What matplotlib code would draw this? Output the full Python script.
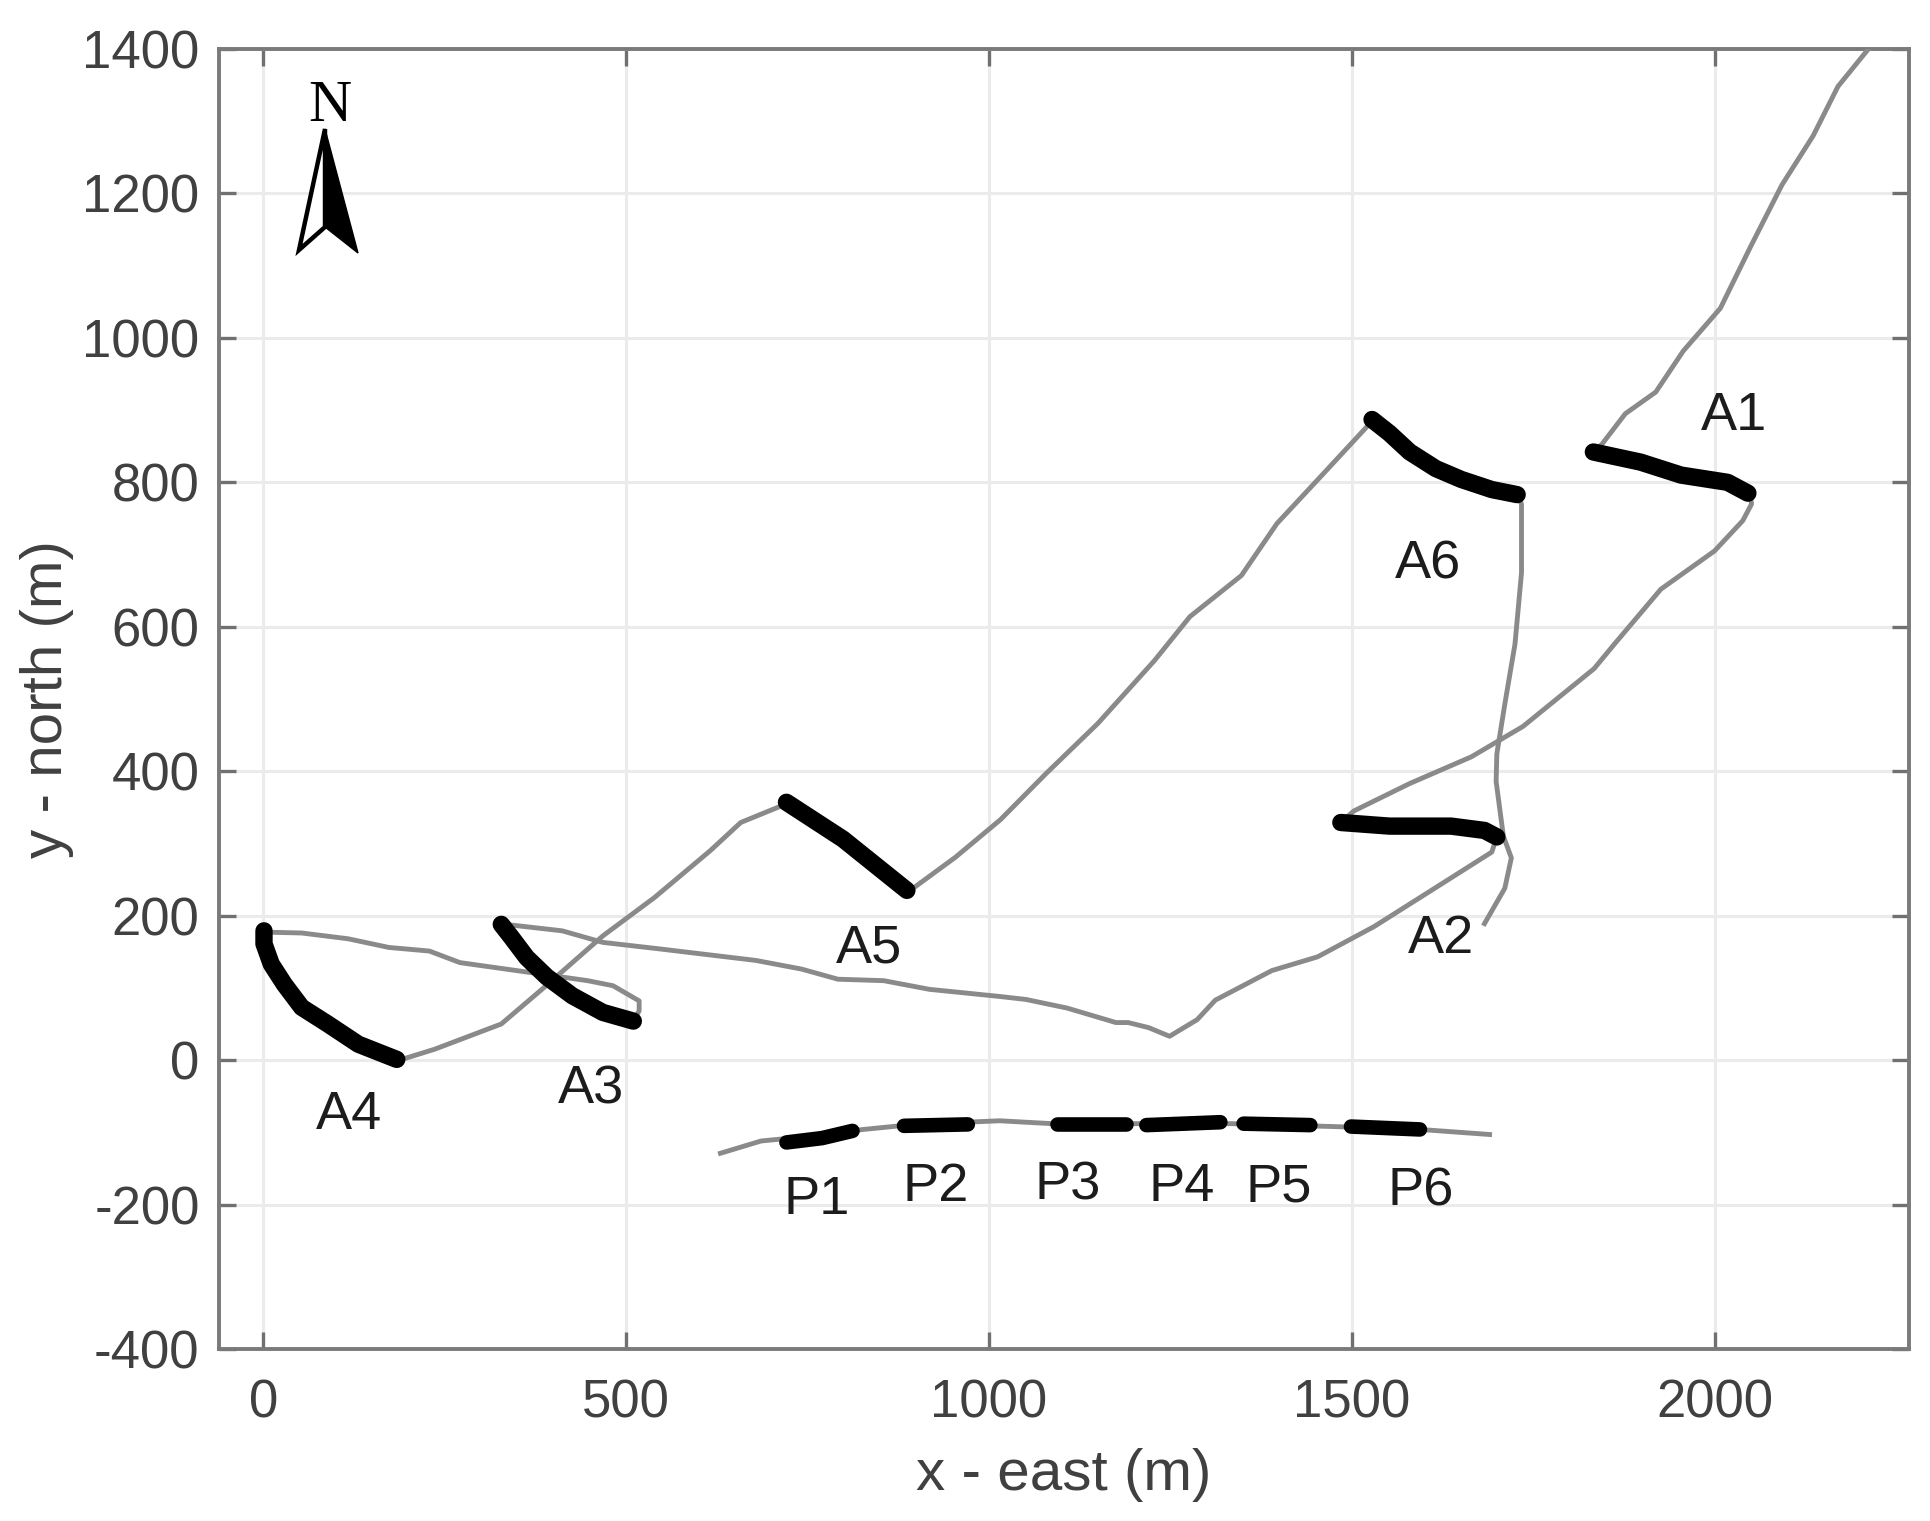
import matplotlib
matplotlib.use("Agg")
import matplotlib.pyplot as plt
from matplotlib.patches import Polygon

plt.rcParams['font.family'] = ['Liberation Sans', 'DejaVu Sans']
plt.rcParams['axes.unicode_minus'] = False

# grey ground track
track_x = [2212, 2170, 2136, 2093, 2050, 2008, 1957, 1919, 1877, 1845, 1833]
track_y = [1400, 1348, 1280, 1212, 1127, 1041, 982, 925, 895, 853, 842]
leg1_x = [2049, 2051, 2039, 2000, 1926, 1862, 1834, 1736, 1665, 1580, 1503, 1485]
leg1_y = [785, 770, 747, 705, 652, 576, 542, 462, 420, 383, 345, 329]
leg2_x = [1700, 1693, 1616, 1531, 1453, 1390, 1312, 1287, 1249, 1220, 1192, 1175, 1108, 1051, 1016,
          918, 855, 792, 742, 679, 546, 468, 412, 342, 328]
leg2_y = [309, 288, 239, 185, 143, 124, 83, 56, 33, 45, 52, 52, 72, 84, 88,
          98, 110, 112, 126, 138, 154, 163, 179, 187, 188]
leg3_x = [510, 518, 518, 482, 447, 363, 271, 229, 173, 117, 53, 11, 1]
leg3_y = [55, 68, 82, 103, 110, 122, 135, 151, 156, 168, 176, 177, 179]
leg4_x = [184, 191, 236, 328, 384, 468, 539, 616, 658, 714, 721]
leg4_y = [1, 1, 15, 50, 98, 172, 225, 290, 329, 352, 357]
leg5_x = [887, 897, 954, 1016, 1080, 1150, 1228, 1277, 1348, 1397, 1460, 1520, 1528]
leg5_y = [235, 239, 281, 333, 398, 466, 553, 614, 671, 743, 811, 876, 887]
leg6_x = [1728, 1734, 1734, 1725, 1711, 1700, 1699, 1709, 1720, 1711, 1683]
leg6_y = [783, 770, 675, 576, 493, 424, 386, 310, 280, 238, 189]
p_track_x = [630, 686, 757, 827, 897, 1015, 1087, 1193, 1334, 1475, 1594, 1690]
p_track_y = [-129, -112, -105, -96, -89, -84, -88, -88, -88, -92, -96, -103]

# black segments
a1_x = [1833, 1898, 1954, 2018, 2046]
a1_y = [842, 828, 810, 800, 785]
a2_x = [1485, 1552, 1637, 1683, 1700]
a2_y = [329, 324, 324, 318, 309]
a3_x = [328, 342, 363, 391, 426, 468, 510]
a3_y = [188, 170, 142, 115, 89, 66, 54]
a4_x = [1, 1, 11, 29, 53, 89, 131, 184]
a4_y = [179, 161, 133, 105, 73, 50, 22, 1]
a5_x = [721, 799, 887]
a5_y = [357, 306, 235]
a6_x = [1528, 1552, 1580, 1616, 1651, 1693, 1728]
a6_y = [887, 868, 842, 819, 804, 790, 783]
p1_x = [721, 770, 812]
p1_y = [-114, -108, -98]
p2_x = [883, 971]
p2_y = [-91, -89]
p3_x = [1094, 1189]
p3_y = [-88, -88]
p4_x = [1217, 1319]
p4_y = [-90, -86]
p5_x = [1351, 1443]
p5_y = [-88, -90]
p6_x = [1499, 1594]
p6_y = [-92, -96]

labels = ['A1', 'A2', 'A3', 'A4', 'A5', 'A6', 'P1', 'P2', 'P3', 'P4', 'P5', 'P6']
label_x = [2027, 1623, 452, 118, 835, 1605, 762, 927, 1109, 1266, 1399, 1595]
label_y = [892, 168, -41, -76, 154, 686, -193, -176, -174, -176, -176, -182]

x_ticks = [0, 500, 1000, 1500, 2000]
y_ticks = [-400, -200, 0, 200, 400, 600, 800, 1000, 1200, 1400]

W, H = 1930, 1521
fig = plt.figure(figsize=(W / 100, H / 100), dpi=100)
ax = fig.add_axes([219 / W, 1 - 1349 / H, (1909 - 219) / W, (1349 - 49) / H])

grey = '#8a8a8a'
for xs, ys in [(track_x, track_y), (leg1_x, leg1_y), (leg2_x, leg2_y), (leg3_x, leg3_y),
               (leg4_x, leg4_y), (leg5_x, leg5_y), (leg6_x, leg6_y), (p_track_x, p_track_y)]:
    ax.plot(xs, ys, color=grey, lw=3.5, zorder=3)

for xs, ys in [(a1_x, a1_y), (a2_x, a2_y), (a3_x, a3_y), (a4_x, a4_y), (a5_x, a5_y), (a6_x, a6_y)]:
    ax.plot(xs, ys, color='black', lw=12.5, solid_capstyle='round', zorder=4)
for xs, ys in [(p1_x, p1_y), (p2_x, p2_y), (p3_x, p3_y), (p4_x, p4_y), (p5_x, p5_y), (p6_x, p6_y)]:
    ax.plot(xs, ys, color='black', lw=10.5, solid_capstyle='round', zorder=4)

for name, lx, ly in zip(labels, label_x, label_y):
    ax.text(lx, ly, name, fontsize=39, color='#1c1c1c', ha='center', va='center', zorder=5)

ax.set_xlim(-61, 2268)
ax.set_ylim(-400, 1400)
ax.set_xticks(x_ticks)
ax.set_yticks(y_ticks)
ax.grid(True, color='#ebebeb', lw=2.2)
ax.set_axisbelow(True)
ax.tick_params(direction='in', length=12, width=2.4, color='#707070', labelcolor='#404040',
               labelsize=38, top=True, right=True)
ax.tick_params(axis='x', pad=21)
ax.tick_params(axis='y', pad=14)
for s in ax.spines.values():
    s.set_color('#7a7a7a')
    s.set_linewidth(2.8)
ax.set_xlabel('x - east (m)', fontsize=42, color='#404040', labelpad=14)
ax.set_ylabel('y - north (m)', fontsize=42, color='#404040', labelpad=6)

# north arrow, placed in figure pixels
def fp(x, y):
    return (x / W, 1 - y / H)

fig.add_artist(Polygon([fp(325, 129), fp(299, 250), fp(325, 227)], closed=True, facecolor='white',
                       edgecolor='black', lw=3.2, transform=fig.transFigure))
fig.add_artist(Polygon([fp(325, 129), fp(358, 253), fp(325, 227)], closed=True, facecolor='black',
                       edgecolor='black', lw=1, transform=fig.transFigure))
fig.text(330 / W, 1 - 107 / H, 'N', family='Liberation Serif', fontsize=43, color='black', ha='center', va='center')

fig.savefig('out.png', dpi=100)
